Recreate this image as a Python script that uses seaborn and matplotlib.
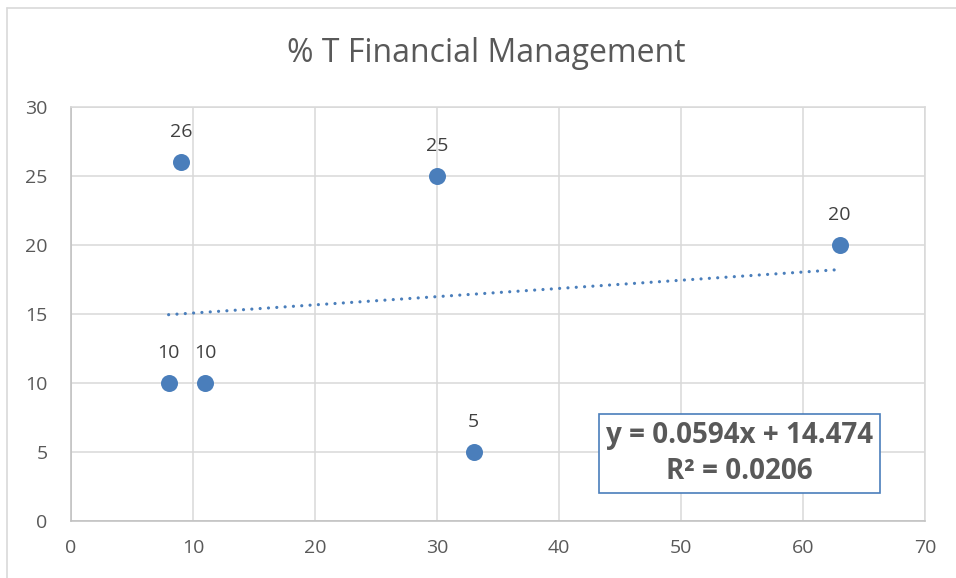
import numpy as np
import pandas as pd
import matplotlib
matplotlib.use("Agg")
import matplotlib.pyplot as plt
from matplotlib.lines import Line2D
import seaborn as sns

# data
x_vals = [8, 9, 11, 30, 33, 63]
y_vals = [10, 26, 10, 25, 5, 20]
point_labels = ["10", "26", "10", "25", "5", "20"]
x_ticks = [0, 10, 20, 30, 40, 50, 60, 70]
y_ticks = [0, 5, 10, 15, 20, 25, 30]

TEXT = "#595959"
GRID = "#d9d9d9"
BLUE = "#4a7ebb"

sns.set_theme(style="white")
plt.rcParams["font.family"] = ["Open Sans", "DejaVu Sans"]

df = pd.DataFrame({"x": x_vals, "y": y_vals, "label": point_labels})

fig = plt.figure(figsize=(9.56, 5.78), dpi=100)
ax = fig.add_axes([0.0743, 0.0986, 0.8933, 0.7163])

sns.scatterplot(data=df, x="x", y="y", ax=ax, s=150, color=BLUE,
                edgecolor=BLUE, linewidth=0, zorder=3)

# linear trendline (least squares, like Excel)
slope, intercept = np.polyfit(df["x"], df["y"], 1)
pred = slope * df["x"] + intercept
r2 = 1 - ((df["y"] - pred) ** 2).sum() / ((df["y"] - df["y"].mean()) ** 2).sum()
xs = np.array([df["x"].min(), df["x"].max()])
ax.plot(xs, slope * xs + intercept, linestyle=(0, (0.01, 2.6)), color=BLUE,
        linewidth=2.3, dash_capstyle="round", zorder=2)

for _, row in df.iterrows():
    ax.annotate(row["label"], (row["x"], row["y"]), textcoords="offset points",
                xytext=(0, 15), ha="center", va="bottom", fontsize=14, color="#404040")

ax.set_xlim(0, 70)
ax.set_ylim(0, 30)
ax.set_xticks(x_ticks)
ax.set_yticks(y_ticks)
ax.grid(True, color=GRID, linewidth=1.1)
ax.set_axisbelow(True)
ax.tick_params(axis="both", length=0, labelsize=14, labelcolor=TEXT)
ax.tick_params(axis="y", pad=17)
ax.tick_params(axis="x", pad=13)
ax.set_xlabel("")
ax.set_ylabel("")
for side in ["top", "right"]:
    ax.spines[side].set_color(GRID)
    ax.spines[side].set_linewidth(1.1)
for side in ["left", "bottom"]:
    ax.spines[side].set_color("#bfbfbf")
    ax.spines[side].set_linewidth(1.1)

eq = f"y = {slope:.4f}x + {intercept:.3f}\nR² = {r2:.4f}"
ax.text(0.783, 0.163, eq, transform=ax.transAxes, ha="center", va="center",
        fontsize=20, fontweight="bold", color=TEXT, linespacing=1.3,
        bbox=dict(boxstyle="square,pad=0.25", facecolor="white", edgecolor=BLUE,
                  linewidth=1.2))

fig.text(0.509, 0.908, "% T Financial Management", ha="center", va="center",
         fontsize=23, color=TEXT)

# outer chart frame
fig.add_artist(Line2D([7 / 956, 1], [1 - 8 / 578, 1 - 8 / 578], color=GRID,
                      linewidth=1.2, transform=fig.transFigure))
fig.add_artist(Line2D([7 / 956, 7 / 956], [0, 1 - 8 / 578], color=GRID,
                      linewidth=1.2, transform=fig.transFigure))

fig.savefig("out.png", dpi=100)
